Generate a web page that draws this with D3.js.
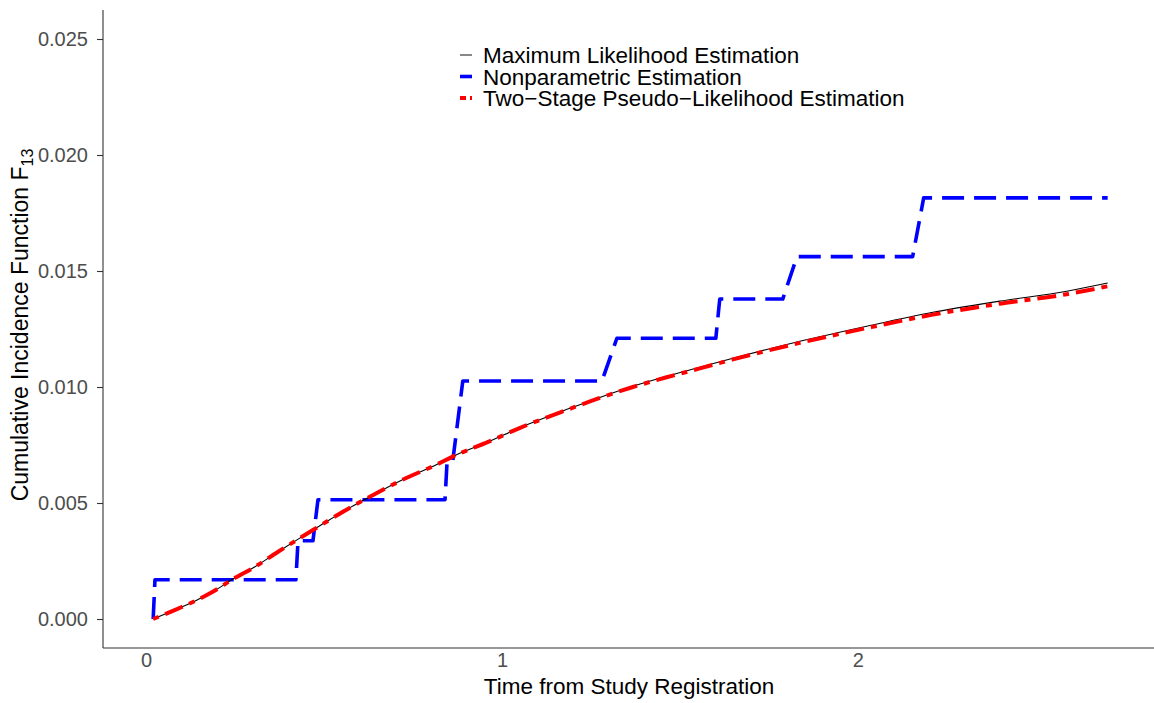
<!DOCTYPE html>
<html lang="en">
<head>
  <meta charset="UTF-8">
  <title>Cumulative Incidence Function F13</title>
  <style>
    body { margin: 0; background: #fff; font-family: "Liberation Sans", Arial, sans-serif; }
    svg { display: block; }
  </style>
</head>
<body>
<svg width="1154" height="703"></svg>
<script src="https://d3js.org/d3.v7.min.js"></script>
<script>
  // maximum likelihood estimate (smooth curve)
  const mleTime = [0.02, 0.09, 0.138, 0.185, 0.244, 0.306, 0.371, 0.424, 0.475, 0.573, 0.629, 0.722, 0.817,
    0.874, 0.958, 1.051, 1.191, 1.275, 1.368, 1.463, 1.556, 1.649, 1.744, 1.837, 2.025, 2.211, 2.399, 2.587, 2.702];
  const mleValue = [0, 0.00045, 0.00078, 0.00115, 0.00172, 0.00225, 0.0029, 0.00341, 0.00389, 0.0048, 0.00527, 0.00601, 0.00666,
    0.00709, 0.00761, 0.00825, 0.00908, 0.00955, 0.01003, 0.01046, 0.01085, 0.01124, 0.01162, 0.01197, 0.01262, 0.01322, 0.0137, 0.01413, 0.01448];
  // two-stage pseudo-likelihood estimate
  const tsValue = [0, 0.00045, 0.00078, 0.00115, 0.00172, 0.00225, 0.0029, 0.00341, 0.00389, 0.0048, 0.00527, 0.00601, 0.00666,
    0.00709, 0.00761, 0.00824, 0.00906, 0.00953, 0.01, 0.01042, 0.0108, 0.01119, 0.01156, 0.0119, 0.01254, 0.01312, 0.01359, 0.014, 0.01434];
  // nonparametric estimate (step points)
  const npTime = [0.02, 0.025, 0.421, 0.427, 0.469, 0.483, 0.84, 0.846, 0.862, 0.89, 1.281, 1.323, 1.601, 1.612,
    1.789, 1.829, 2.154, 2.185, 2.702];
  const npValue = [0, 0.00169, 0.00169, 0.00337, 0.00337, 0.00514, 0.00514, 0.00683, 0.00683, 0.01026, 0.01026, 0.0121, 0.0121, 0.01379,
    0.01379, 0.01562, 0.01562, 0.01815, 0.01815];

  const xTicks = [0, 1, 2];
  const yTicks = [0, 0.005, 0.01, 0.015, 0.02, 0.025];
  const legendLabels = ["Maximum Likelihood Estimation", "Nonparametric Estimation", "Two\u2212Stage Pseudo\u2212Likelihood Estimation"];

  const svg = d3.select("svg");
  const x = d3.scaleLinear().domain([-0.121, 2.835]).range([103, 1155]);
  const y = d3.scaleLinear().domain([-0.00125, 0.02625]).range([648, 10]);

  const stepLine = d3.line().x(d => x(d[0])).y(d => y(d[1]));
  const smoothLine = d3.line().x(d => x(d[0])).y(d => y(d[1])).curve(d3.curveMonotoneX);

  const styles = [
    { color: "#000000", width: 1.1, dash: null },
    { color: "#0000ff", width: 3.6, dash: "22,10" },
    { color: "#ff0000", width: 4, dash: "6,7,19,7" }
  ];

  // axes
  const yAxis = svg.append("g")
    .attr("transform", "translate(103,0)")
    .call(d3.axisLeft(y).tickValues(yTicks).tickSize(6).tickPadding(9).tickFormat(d3.format(".3f")));
  yAxis.select(".domain").attr("d", "M0,10V648").attr("stroke", "#333").attr("stroke-width", 1.1);
  yAxis.selectAll(".tick line").attr("stroke", "#333").attr("stroke-width", 1.1);
  yAxis.selectAll(".tick text").attr("fill", "#4d4d4d").attr("font-size", "20px")
    .attr("font-family", "Liberation Sans, Arial, sans-serif");

  const xAxis = svg.append("g")
    .attr("transform", "translate(0,648)")
    .call(d3.axisBottom(x).tickValues(xTicks).tickSize(0).tickPadding(5).tickFormat(d3.format("d")));
  xAxis.select(".domain").attr("d", "M103,0H1154").attr("stroke", "#333").attr("stroke-width", 1.1);
  xAxis.selectAll(".tick text").attr("fill", "#4d4d4d").attr("font-size", "20px")
    .attr("font-family", "Liberation Sans, Arial, sans-serif");

  // curves: nonparametric first, then MLE, then two-stage on top
  const npData = npTime.map((t, i) => [t, npValue[i]]);
  const mleData = mleTime.map((t, i) => [t, mleValue[i]]);
  const tsData = mleTime.map((t, i) => [t, tsValue[i]]);

  [[npData, styles[1], stepLine], [mleData, styles[0], smoothLine], [tsData, styles[2], smoothLine]].forEach(([data, s, gen]) => {
    svg.append("path")
      .datum(data)
      .attr("d", gen)
      .attr("fill", "none")
      .attr("stroke", s.color)
      .attr("stroke-width", s.width)
      .attr("stroke-dasharray", s.dash)
      .attr("stroke-linejoin", "round");
  });

  // axis titles
  svg.append("text")
    .attr("x", 629).attr("y", 694)
    .attr("text-anchor", "middle")
    .attr("font-size", "22.5px")
    .text("Time from Study Registration");

  const yTitle = svg.append("text")
    .attr("transform", "translate(28,325) rotate(-90)")
    .attr("text-anchor", "middle")
    .attr("font-size", "23px");
  yTitle.append("tspan").text("Cumulative Incidence Function F");
  yTitle.append("tspan").attr("font-size", "16px").attr("dy", 5).text("13");

  // legend
  const legend = svg.append("g").attr("transform", "translate(459,55)");
  legendLabels.forEach((label, i) => {
    const s = styles[i];
    const g = legend.append("g").attr("transform", `translate(0,${i * 21.5})`);
    if (i === 2) {
      g.append("line").attr("x1", 1).attr("x2", 7).attr("stroke", s.color).attr("stroke-width", s.width);
      g.append("line").attr("x1", 11).attr("x2", 13).attr("stroke", s.color).attr("stroke-width", s.width);
    } else {
      g.append("line").attr("x1", 1).attr("x2", 13)
        .attr("stroke", i === 0 ? "#555" : s.color).attr("stroke-width", i === 0 ? 1.4 : s.width);
    }
    g.append("text")
      .attr("x", 24).attr("y", 8)
      .attr("font-size", "22.5px")
      .text(label);
  });
</script>
</body>
</html>
